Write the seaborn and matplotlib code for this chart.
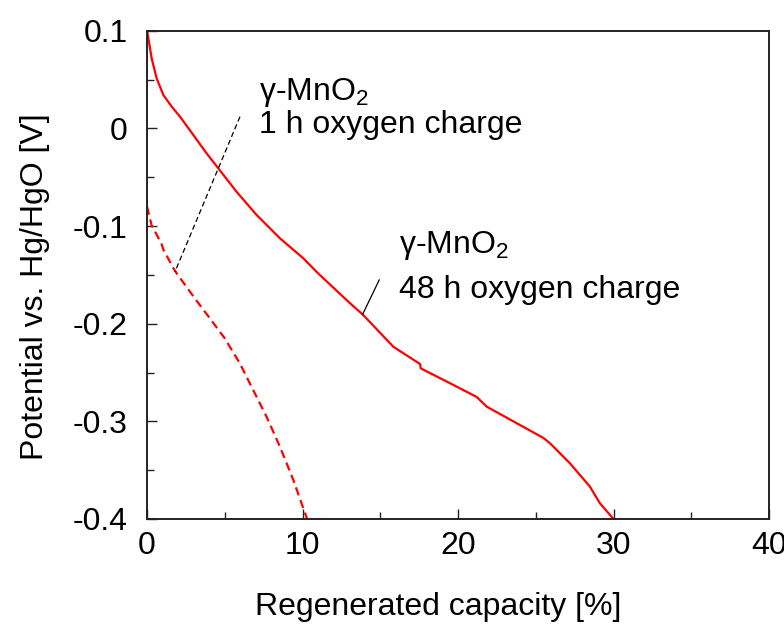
import matplotlib
matplotlib.use("Agg")
import matplotlib.pyplot as plt
from matplotlib.ticker import AutoMinorLocator, FixedLocator, FixedFormatter
import seaborn as sns
import pandas as pd

# ---- data ----
cap_48h = [0.0, 0.02, 0.30, 0.62, 1.05, 1.59, 2.12, 2.98, 3.83, 4.59, 5.76, 7.05, 8.55,
           10.05, 10.9, 11.34, 13.05, 13.9, 15.84, 17.56, 17.6, 19.49, 21.2, 21.85,
           23.56, 25.49, 25.92, 27.2, 28.49, 29.13, 30.0]
pot_48h = [0.100, 0.099, 0.0717, 0.0512, 0.0342, 0.0222, 0.012, -0.0068, -0.0255, -0.041,
           -0.0649, -0.0887, -0.1126, -0.133, -0.1468, -0.1535, -0.179, -0.191, -0.2236,
           -0.2413, -0.2457, -0.261, -0.275, -0.285, -0.300, -0.317, -0.3225, -0.343,
           -0.367, -0.384, -0.400]

cap_1h = [0.0, 0.30, 0.41, 0.95, 1.05, 1.69, 1.91, 2.98, 4.04, 5.0, 5.97, 6.83, 7.69,
          8.55, 9.41, 9.94, 10.3]
pot_1h = [-0.080, -0.0995, -0.1023, -0.119, -0.124, -0.143, -0.1485, -0.172, -0.1945,
          -0.215, -0.2406, -0.268, -0.2953, -0.326, -0.360, -0.384, -0.400]

lead_1h_x = [5.98, 1.8]
lead_1h_y = [0.012, -0.1468]
lead_48h_x = [14.94, 13.85]
lead_48h_y = [-0.155, -0.191]

xticks = [0, 10, 20, 30, 40]
xtick_labels = ["0", "10", "20", "30", "40"]
yticks = [-0.4, -0.3, -0.2, -0.1, 0.0, 0.1]
ytick_labels = ["-0.4", "-0.3", "-0.2", "-0.1", "0", "0.1"]

df48 = pd.DataFrame({"cap": cap_48h, "pot": pot_48h})
df1 = pd.DataFrame({"cap": cap_1h, "pot": pot_1h})

sns.set_style("ticks")
plt.rcParams["font.family"] = ["Liberation Sans", "DejaVu Sans"]
plt.rcParams["mathtext.fontset"] = "custom"
plt.rcParams["mathtext.rm"] = "Liberation Sans"
plt.rcParams["mathtext.it"] = "Liberation Sans"
plt.rcParams["axes.unicode_minus"] = False
plt.rcParams["text.color"] = "black"
plt.rcParams["axes.labelcolor"] = "black"

FS = 23

fig = plt.figure(figsize=(7.84, 6.27), dpi=100)
ax = fig.add_axes([147/784, 1-519/627, (769-147)/784, (519-30.7)/627])

sns.lineplot(data=df48, x="cap", y="pot", sort=False, estimator=None, ax=ax,
             color="#ff0000", lw=1.6)
sns.lineplot(data=df1, x="cap", y="pot", sort=False, estimator=None, ax=ax,
             color="#ff0000", lw=1.6, linestyle=(0, (3.8, 2.2)))
ax.plot(lead_1h_x, lead_1h_y, color="black", lw=0.9, linestyle=(0, (4.2, 2.5)))
ax.plot(lead_48h_x, lead_48h_y, color="black", lw=0.9)

ax.set_xlim(0, 40)
ax.set_ylim(-0.4, 0.1)
ax.xaxis.set_major_locator(FixedLocator(xticks))
ax.xaxis.set_major_formatter(FixedFormatter(xtick_labels))
ax.yaxis.set_major_locator(FixedLocator(yticks))
ax.yaxis.set_major_formatter(FixedFormatter(ytick_labels))
ax.xaxis.set_minor_locator(AutoMinorLocator(2))
ax.yaxis.set_minor_locator(AutoMinorLocator(2))
ax.tick_params(which="both", direction="in", top=False, right=False,
               color="#222222", width=1.0, labelsize=FS, labelcolor="black")
ax.tick_params(which="major", length=7)
ax.tick_params(which="minor", length=5)
ax.tick_params(axis="x", which="major", pad=9)
ax.tick_params(axis="y", which="major", pad=14)
for s in ax.spines.values():
    s.set_color("#222222")
    s.set_linewidth(1.4)

ax.set_xlabel("Regenerated capacity [%]", fontsize=FS)
ax.set_ylabel("Potential vs. Hg/HgO [V]", fontsize=FS)
ax.xaxis.set_label_coords((438 - 147) / 622, -(592 - 519) / 488.3)
ax.yaxis.set_label_coords(-(147 - 50) / 622, (519 - 286.5) / 488.3)

ax.text(7.2, 0.029, "γ-MnO$_2$", fontsize=FS, va="baseline", ha="left")
ax.text(7.2, -0.0048, "1 h oxygen charge", fontsize=FS, va="baseline", ha="left")
ax.text(16.2, -0.128, "γ-MnO$_2$", fontsize=FS, va="baseline", ha="left")
ax.text(16.2, -0.174, "48 h oxygen charge", fontsize=FS, va="baseline", ha="left")

fig.savefig("out.png", dpi=100)
